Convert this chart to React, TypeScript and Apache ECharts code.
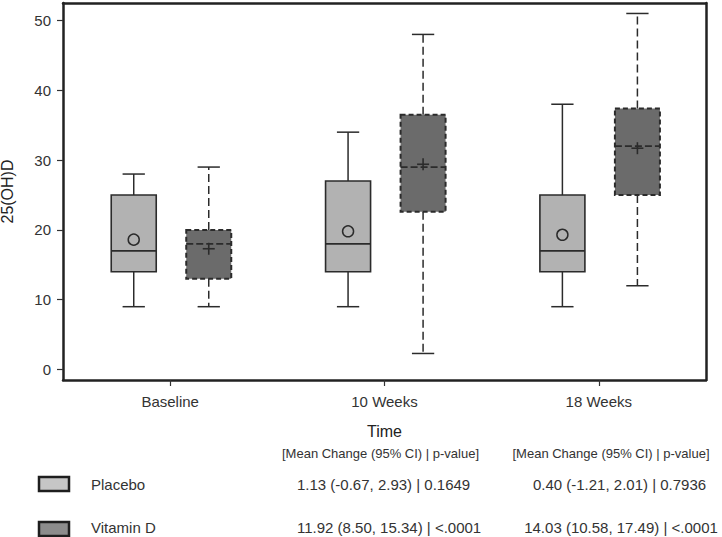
import React, { useEffect, useRef } from "react";
import * as echarts from "echarts";

const categories = ["Baseline", "10 Weeks", "18 Weeks"];
const yTicks = [0, 10, 20, 30, 40, 50];

const placeboLow = [9, 9, 9];
const placeboQ1 = [14, 14, 14];
const placeboMedian = [17, 18, 17];
const placeboQ3 = [25, 27, 25];
const placeboHigh = [28, 34, 38];
const placeboMean = [18.6, 19.8, 19.3];

const vitDLow = [9, 2.3, 12];
const vitDQ1 = [13, 22.6, 25];
const vitDMedian = [18, 29, 32];
const vitDQ3 = [20, 36.5, 37.4];
const vitDHigh = [29, 48, 51];
const vitDMean = [17.3, 29.4, 31.7];

const headerText = "[Mean Change (95% CI) | p-value]";
const placeboStats = ["1.13 (-0.67, 2.93) | 0.1649", "0.40 (-1.21, 2.01) | 0.7936"];
const vitDStats = ["11.92 (8.50, 15.34) | <.0001", "14.03 (10.58, 17.49) | <.0001"];

const FONT = "'Liberation Sans', Arial, Helvetica, sans-serif";
const INK = "#2b2b2b";
const FRAME = "#222222";
const GRID = { left: 63, top: 3, width: 643, height: 377 };

function buildData(low: number[], q1: number[], med: number[], q3: number[], high: number[], mean: number[]) {
  return categories.map((_, i) => [i, low[i], q1[i], med[i], q3[i], high[i], mean[i]]);
}

function makeRender(offsetFrac: number, dashed: boolean, fill: string, meanShape: "circle" | "plus") {
  return (params: any, api: any) => {
    const xi = api.value(0);
    const low = api.coord([xi, api.value(1)]);
    const q1 = api.coord([xi, api.value(2)]);
    const med = api.coord([xi, api.value(3)]);
    const q3 = api.coord([xi, api.value(4)]);
    const high = api.coord([xi, api.value(5)]);
    const mean = api.coord([xi, api.value(6)]);
    const bw = api.size([1, 0])[0];
    const cx = low[0] + bw * offsetFrac;
    const hw = bw * 0.105;
    const cw = bw * 0.052;
    const wDash = dashed ? [8, 4] : null;
    const bDash = dashed ? [5, 3] : null;
    const lineStyle = (dash: number[] | null, w = 1.5) => ({
      stroke: INK,
      lineWidth: w,
      lineDash: dash || undefined,
      fill: "none",
    });
    const children: any[] = [
      { type: "line", shape: { x1: cx, y1: q3[1], x2: cx, y2: high[1] }, style: lineStyle(wDash) },
      { type: "line", shape: { x1: cx, y1: q1[1], x2: cx, y2: low[1] }, style: lineStyle(wDash) },
      { type: "line", shape: { x1: cx - cw, y1: high[1], x2: cx + cw, y2: high[1] }, style: lineStyle(null) },
      { type: "line", shape: { x1: cx - cw, y1: low[1], x2: cx + cw, y2: low[1] }, style: lineStyle(null) },
      {
        type: "rect",
        shape: { x: cx - hw, y: q3[1], width: hw * 2, height: q1[1] - q3[1] },
        style: { fill, stroke: INK, lineWidth: dashed ? 2 : 1.6, lineDash: bDash || undefined },
      },
      {
        type: "line",
        shape: { x1: cx - hw, y1: med[1], x2: cx + hw, y2: med[1] },
        style: lineStyle(dashed ? [7, 3] : null, 1.8),
      },
    ];
    if (meanShape === "circle") {
      children.push({
        type: "circle",
        shape: { cx, cy: mean[1], r: 5.5 },
        style: { fill: "none", stroke: INK, lineWidth: 1.5 },
      });
    } else {
      children.push({ type: "line", shape: { x1: cx - 6, y1: mean[1], x2: cx + 6, y2: mean[1] }, style: lineStyle(null, 1.6) });
      children.push({ type: "line", shape: { x1: cx, y1: mean[1] - 6, x2: cx, y2: mean[1] + 6 }, style: lineStyle(null, 1.6) });
    }
    return { type: "group", children };
  };
}

export default function App() {
  const ref = useRef<HTMLDivElement>(null);
  useEffect(() => {
    if (!ref.current) return;
    const chart = echarts.init(ref.current, null, { renderer: "svg" });
    const txt = (text: string, x: number, y: number, size: number, align: string = "left") => ({
      type: "text",
      x,
      y,
      style: { text, fill: "#333", font: `${size}px ${FONT}`, textAlign: align, textVerticalAlign: "middle" },
    });
    chart.setOption({
      animation: false,
      backgroundColor: "#ffffff",
      textStyle: { fontFamily: FONT },
      grid: {
        ...GRID,
        show: false,
        containLabel: false,
        outerBoundsMode: "none",
      },
      xAxis: [
        {
          type: "category",
          data: categories,
          boundaryGap: true,
          name: "Time",
          nameLocation: "middle",
          nameGap: 43,
          nameTextStyle: { fontSize: 16, color: "#222", fontFamily: FONT },
          axisLine: { show: true, onZero: false, lineStyle: { color: FRAME, width: 2.5 } },
          axisTick: { show: true, alignWithLabel: true, length: 6, lineStyle: { color: "#333", width: 1.2 } },
          axisLabel: { fontSize: 15, color: "#333", margin: 14, fontFamily: FONT },
          splitLine: { show: false },
        },
        {
          type: "category",
          data: categories,
          position: "top",
          axisLine: { show: true, onZero: false, lineStyle: { color: FRAME, width: 2.5 } },
          axisTick: { show: false },
          axisLabel: { show: false },
          splitLine: { show: false },
        },
      ],
      yAxis: [
        {
          type: "value",
          min: -1.5,
          max: 52.5,
          name: "25(OH)D",
          nameLocation: "middle",
          nameGap: 48,
          nameRotate: 90,
          nameTextStyle: { fontSize: 16, color: "#222", fontFamily: FONT },
          axisLine: { show: true, onZero: false, lineStyle: { color: FRAME, width: 2.5 } },
          axisTick: { show: true, length: 6, customValues: yTicks, lineStyle: { color: "#333", width: 1.2 } },
          axisLabel: { fontSize: 15, color: "#333", margin: 12, customValues: yTicks, fontFamily: FONT },
          splitLine: { show: false },
        },
        {
          type: "value",
          min: -1.5,
          max: 52.5,
          position: "right",
          axisLine: { show: true, onZero: false, lineStyle: { color: FRAME, width: 2.5 } },
          axisTick: { show: false },
          axisLabel: { show: false },
          splitLine: { show: false },
        },
      ],
      series: [
        {
          name: "Placebo",
          type: "custom",
          renderItem: makeRender(-0.17, false, "#b2b2b2", "circle"),
          encode: { x: 0, y: [1, 2, 3, 4, 5, 6] },
          data: buildData(placeboLow, placeboQ1, placeboMedian, placeboQ3, placeboHigh, placeboMean),
        },
        {
          name: "Vitamin D",
          type: "custom",
          renderItem: makeRender(0.18, true, "#6b6b6b", "plus"),
          encode: { x: 0, y: [1, 2, 3, 4, 5, 6] },
          data: buildData(vitDLow, vitDQ1, vitDMedian, vitDQ3, vitDHigh, vitDMean),
        },
      ],
      graphic: [
        txt(headerText, 380.5, 453, 13, "center"),
        txt(headerText, 611, 453, 13, "center"),
        {
          type: "rect",
          shape: { x: 39, y: 477, width: 30, height: 14 },
          style: { fill: "#c6c6c6", stroke: "#1e1e1e", lineWidth: 2.5 },
        },
        {
          type: "rect",
          shape: { x: 39, y: 522, width: 30, height: 14 },
          style: { fill: "#8c8c8c", stroke: "#1e1e1e", lineWidth: 2.5 },
        },
        txt("Placebo", 91, 484, 15),
        txt("Vitamin D", 91, 527, 15),
        txt(placeboStats[0], 297, 484, 15),
        txt(vitDStats[0], 297, 527, 15),
        txt(placeboStats[1], 619.5, 484, 15, "center"),
        txt(vitDStats[1], 621, 527, 15, "center"),
      ],
    });
    return () => chart.dispose();
  }, []);
  return (
    <div
      ref={ref}
      style={{ position: "fixed", left: 0, top: 0, width: 722, height: 537, background: "#fff" }}
    />
  );
}
